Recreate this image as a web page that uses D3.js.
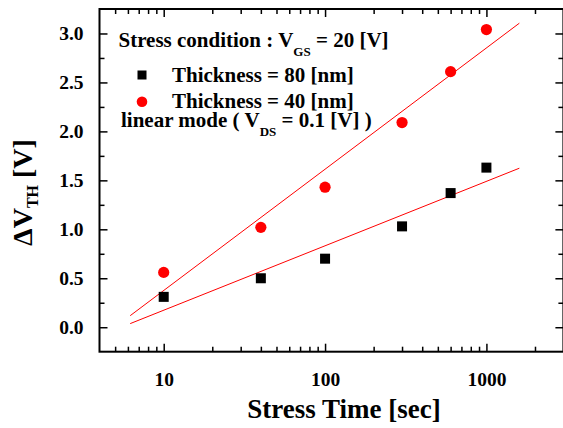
<!DOCTYPE html>
<html>
<head>
<meta charset="utf-8">
<script src="https://cdn.jsdelivr.net/npm/d3@7"></script>
<style>
  html, body { margin: 0; padding: 0; background: #ffffff; }
  svg { display: block; }
  text { font-family: "Liberation Serif", "Times New Roman", serif; font-weight: bold; fill: #000; }
</style>
</head>
<body>
<svg id="chart" width="563" height="428"></svg>
<script>
// ---- data ----
const stressTimes = [10, 40, 100, 300, 600, 1000];
const thickness80 = [0.31, 0.50, 0.70, 1.03, 1.37, 1.63];
const thickness40 = [0.56, 1.02, 1.43, 2.09, 2.61, 3.04];
const fitTimes = [6.2, 1600];
const fit80 = [0.037, 1.624];
const fit40 = [0.118, 3.105];
const xMajorTicks = [10, 100, 1000];
const xTickLabels = ["10", "100", "1000"];
const xMinorTicks = [5, 6, 7, 8, 9, 20, 30, 40, 50, 60, 70, 80, 90, 200, 300, 400, 500, 600, 700, 800, 900, 2000];
const yMajorTicks = [0.0, 0.5, 1.0, 1.5, 2.0, 2.5, 3.0];
const yTickLabels = ["0.0", "0.5", "1.0", "1.5", "2.0", "2.5", "3.0"];
const yMinorTicks = [0.25, 0.75, 1.25, 1.75, 2.25, 2.75];

(function () {
// ---- layout ----
const pL = 99.5, pR = 563.4, pT = 9, pB = 351.7;
const svg = d3.select("#chart");

const x = d3.scaleLog().domain([4, 3000]).range([pL, pR]);
const y = d3.scaleLinear().domain([-0.25, 3.25]).range([pB, pT]);

const majorLen = 8, minorLen = 5;

function styleAxis(g, fontSize) {
  g.select(".domain").remove();
  g.selectAll(".tick line").attr("stroke", "#000").attr("stroke-width", 1.5);
  g.selectAll(".tick text")
    .attr("font-family", "Liberation Serif, Times New Roman, serif")
    .attr("font-weight", "bold")
    .attr("font-size", fontSize)
    .attr("fill", "#000");
}

// bottom axis (inward ticks)
svg.append("g").attr("transform", `translate(0,${pB})`)
  .call(d3.axisBottom(x).tickValues(xMajorTicks)
    .tickFormat((d, i) => xTickLabels[i]).tickSizeInner(-majorLen).tickSizeOuter(0).tickPadding(20))
  .call(g => styleAxis(g, 19.5));
svg.append("g").attr("transform", `translate(0,${pB})`)
  .call(d3.axisBottom(x).tickValues(xMinorTicks).tickFormat("").tickSizeInner(-minorLen).tickSizeOuter(0))
  .call(g => styleAxis(g, 0));
// top axis
svg.append("g").attr("transform", `translate(0,${pT})`)
  .call(d3.axisTop(x).tickValues(xMajorTicks).tickFormat("").tickSizeInner(-majorLen).tickSizeOuter(0))
  .call(g => styleAxis(g, 0));
svg.append("g").attr("transform", `translate(0,${pT})`)
  .call(d3.axisTop(x).tickValues(xMinorTicks).tickFormat("").tickSizeInner(-minorLen).tickSizeOuter(0))
  .call(g => styleAxis(g, 0));
// left axis
svg.append("g").attr("transform", `translate(${pL},0)`)
  .call(d3.axisLeft(y).tickValues(yMajorTicks)
    .tickFormat((d, i) => yTickLabels[i]).tickSizeInner(-majorLen).tickSizeOuter(0).tickPadding(16))
  .call(g => styleAxis(g, 19.5));
svg.append("g").attr("transform", `translate(${pL},0)`)
  .call(d3.axisLeft(y).tickValues(yMinorTicks).tickFormat("").tickSizeInner(-minorLen).tickSizeOuter(0))
  .call(g => styleAxis(g, 0));
// right axis
svg.append("g").attr("transform", `translate(${pR},0)`)
  .call(d3.axisRight(y).tickValues(yMajorTicks).tickFormat("").tickSizeInner(-majorLen).tickSizeOuter(0))
  .call(g => styleAxis(g, 0));
svg.append("g").attr("transform", `translate(${pR},0)`)
  .call(d3.axisRight(y).tickValues(yMinorTicks).tickFormat("").tickSizeInner(-minorLen).tickSizeOuter(0))
  .call(g => styleAxis(g, 0));

// frame
svg.append("rect")
  .attr("x", pL).attr("y", pT)
  .attr("width", pR - pL).attr("height", pB - pT)
  .attr("fill", "none").attr("stroke", "#000").attr("stroke-width", 2);

// fit lines
const line = d3.line().x(d => x(d[0])).y(d => y(d[1]));
[fit40, fit80].forEach(f => {
  svg.append("path")
    .datum(fitTimes.map((t, i) => [t, f[i]]))
    .attr("d", line)
    .attr("fill", "none").attr("stroke", "#ff0000").attr("stroke-width", 1);
});

// markers
const sq = 10;
svg.append("g").selectAll("rect")
  .data(stressTimes.map((t, i) => [t, thickness80[i]]))
  .join("rect")
  .attr("x", d => x(d[0]) - sq / 2).attr("y", d => y(d[1]) - sq / 2)
  .attr("width", sq).attr("height", sq).attr("fill", "#000");
svg.append("g").selectAll("circle")
  .data(stressTimes.map((t, i) => [t, thickness40[i]]))
  .join("circle")
  .attr("cx", d => x(d[0])).attr("cy", d => y(d[1]))
  .attr("r", 5.6).attr("fill", "#ff0000");

// legend / annotations
const l1 = svg.append("text").attr("x", 118.5).attr("y", 47).attr("font-size", 21);
l1.append("tspan").text("Stress condition : V");
l1.append("tspan").attr("font-size", 13).attr("dy", 9).text("GS");
l1.append("tspan").attr("dy", -9).text(" = 20 [V]");

svg.append("rect").attr("x", 142 - 4.5).attr("y", 75 - 4.5).attr("width", 9).attr("height", 9).attr("fill", "#000");
svg.append("text").attr("x", 172).attr("y", 81.7).attr("font-size", 21).text("Thickness = 80 [nm]");
svg.append("circle").attr("cx", 142).attr("cy", 101.7).attr("r", 5.3).attr("fill", "#ff0000");
svg.append("text").attr("x", 172).attr("y", 108.3).attr("font-size", 21).text("Thickness = 40 [nm]");

const l4 = svg.append("text").attr("x", 121).attr("y", 127).attr("font-size", 21);
l4.append("tspan").text("linear mode ( V");
l4.append("tspan").attr("font-size", 13).attr("dy", 9).text("DS");
l4.append("tspan").attr("dy", -9).text(" = 0.1 [V] )");

// axis titles
svg.append("text")
  .attr("x", 344).attr("y", 417.7)
  .attr("text-anchor", "middle").attr("font-size", 27)
  .text("Stress Time [sec]");

const yl = svg.append("text")
  .attr("transform", "translate(31.7,192.5) rotate(-90)")
  .attr("text-anchor", "middle").attr("font-size", 28);
yl.append("tspan").text("ΔV");
yl.append("tspan").attr("font-size", 16).attr("dy", 6).text("TH");
yl.append("tspan").attr("dy", -6).text(" [V]");
})();
</script>
</body>
</html>
